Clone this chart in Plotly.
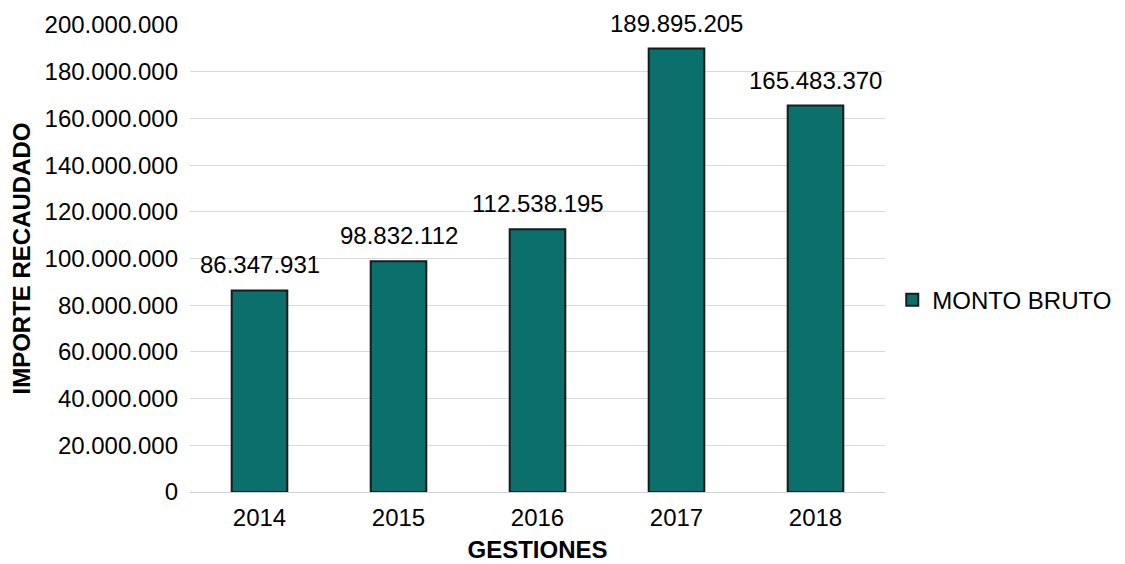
import plotly.graph_objects as go

years = ["2014", "2015", "2016", "2017", "2018"]
monto_bruto = [86347931, 98832112, 112538195, 189895205, 165483370]
tick_vals = [0, 20000000, 40000000, 60000000, 80000000, 100000000,
             120000000, 140000000, 160000000, 180000000, 200000000]

def fmt(v):
    return f"{v:,}".replace(",", ".")

FONT = "Liberation Sans, Arial, sans-serif"

fig = go.Figure()
fig.add_trace(go.Bar(
    x=years, y=monto_bruto, name="MONTO BRUTO",
    marker=dict(color="#0b706b", line=dict(color="#1a1a1a", width=2)),
    width=0.4,
))

# value labels: on a category axis annotations use the category index
for i, v in enumerate(monto_bruto):
    fig.add_annotation(x=i, y=v, xref="x", yref="y", text=fmt(v), showarrow=False,
                       yanchor="bottom", yshift=10,
                       font=dict(size=24, color="#000000", family=FONT))

fig.update_layout(
    width=1125, height=564,
    margin=dict(l=182, r=248, t=17, b=80),
    paper_bgcolor="white", plot_bgcolor="white",
    font=dict(family=FONT, size=24, color="#000000"),
    showlegend=True,
    legend=dict(xref="container", yref="container", x=0.786, y=0.482,
                yanchor="middle", xanchor="left",
                font=dict(size=24), itemsizing="constant", itemwidth=30),
    xaxis=dict(type="category", categoryarray=years, categoryorder="array",
               title=dict(text="<b>GESTIONES</b>", font=dict(size=24), standoff=11),
               showline=True, linecolor="#d0d0d0", ticks="", tickfont=dict(size=24),
               ticklabelstandoff=4, automargin=False),
    yaxis=dict(title=dict(text="<b>IMPORTE RECAUDADO</b>", font=dict(size=24), standoff=10),
               range=[0, 200000000], tickvals=tick_vals,
               ticktext=[fmt(v) for v in tick_vals],
               showgrid=True, gridcolor="#d9d9d9", gridwidth=1,
               zeroline=False, tickfont=dict(size=24), ticks="",
               ticklabelstandoff=11, automargin=False),
    bargap=0.6,
)

fig.write_html("out.html")
